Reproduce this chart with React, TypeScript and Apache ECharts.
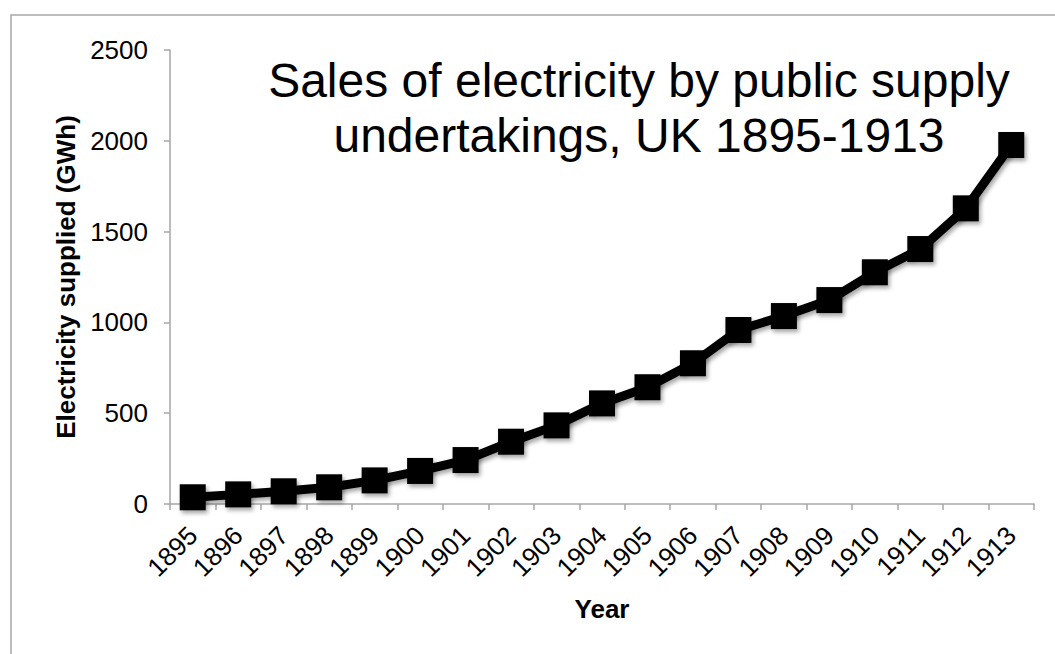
import React, { useEffect, useRef } from "react";
import * as echarts from "echarts";

// Sales of electricity by public supply undertakings, UK (GWh)
const years: string[] = [
  "1895", "1896", "1897", "1898", "1899", "1900", "1901", "1902", "1903", "1904",
  "1905", "1906", "1907", "1908", "1909", "1910", "1911", "1912", "1913",
];
const electricitySupplied: number[] = [
  37, 53, 70, 92, 130, 182, 242, 343, 433, 554,
  643, 775, 958, 1035, 1123, 1276, 1404, 1628, 1977,
];
const yTicks = { min: 0, max: 2500, interval: 500 };

const titleText = "Sales of electricity by public supply\nundertakings, UK 1895-1913";
const yAxisName = "Electricity supplied (GWh)";
const xAxisName = "Year";

const FONT = "Helvetica, Arial, 'Liberation Sans', sans-serif";
const AXIS_GREY = "#a6a6a6";

export default function App() {
  const ref = useRef<HTMLDivElement>(null);

  useEffect(() => {
    if (!ref.current) return;
    const chart = echarts.init(ref.current, null, { renderer: "svg" });
    chart.setOption({
      animation: false,
      backgroundColor: "#ffffff",
      grid: { left: 170, right: 21, top: 50, bottom: 150, containLabel: false },
      graphic: [
        {
          type: "rect",
          shape: { x: 11, y: 15, width: 1200, height: 800 },
          style: { fill: "none", stroke: "#a8a8a8", lineWidth: 1.5 },
          silent: true,
          z: -1,
        },
        {
          type: "text",
          x: 639,
          y: 53,
          style: {
            text: titleText,
            fill: "#000000",
            font: `48px ${FONT}`,
            textAlign: "center",
            textVerticalAlign: "top",
            lineHeight: 55,
          },
          z: 10,
        },
      ],
      xAxis: {
        type: "category",
        data: years,
        boundaryGap: true,
        name: xAxisName,
        nameLocation: "middle",
        nameGap: 92,
        nameTextStyle: { fontFamily: FONT, fontSize: 26, fontWeight: "bold", color: "#000" },
        axisLine: { lineStyle: { color: AXIS_GREY, width: 1.5 } },
        axisTick: { show: true, interval: 0, length: 6, lineStyle: { color: AXIS_GREY, width: 1.5 } },
        axisLabel: {
          interval: 0,
          rotate: 45,
          margin: 27,
          fontFamily: FONT,
          fontSize: 26,
          color: "#000",
        },
        splitLine: { show: false },
      },
      yAxis: {
        type: "value",
        min: yTicks.min,
        max: yTicks.max,
        interval: yTicks.interval,
        name: yAxisName,
        nameLocation: "middle",
        nameGap: 90,
        nameRotate: 90,
        nameTextStyle: { fontFamily: FONT, fontSize: 26, fontWeight: "bold", color: "#000" },
        axisLine: { show: true, lineStyle: { color: AXIS_GREY, width: 1.5 } },
        axisTick: { show: true, length: 6, lineStyle: { color: AXIS_GREY, width: 1.5 } },
        axisLabel: {
          margin: 22,
          fontFamily: FONT,
          fontSize: 26,
          color: "#000",
          formatter: (v: number) => String(v),
        },
        splitLine: { show: false },
      },
      series: [
        {
          type: "line",
          data: electricitySupplied,
          symbol: "rect",
          symbolSize: 26,
          showAllSymbol: true,
          lineStyle: {
            color: "#000",
            width: 9,
            shadowColor: "rgba(0,0,0,0.35)",
            shadowBlur: 4,
            shadowOffsetX: 2,
            shadowOffsetY: 3,
          },
          itemStyle: {
            color: "#000",
            borderWidth: 0,
            shadowColor: "rgba(0,0,0,0.35)",
            shadowBlur: 4,
            shadowOffsetX: 2,
            shadowOffsetY: 3,
          },
          emphasis: { disabled: true },
        },
      ],
    });
    return () => chart.dispose();
  }, []);

  return (
    <div
      ref={ref}
      style={{ position: "fixed", left: 0, top: 0, width: 1055, height: 654 }}
    />
  );
}
